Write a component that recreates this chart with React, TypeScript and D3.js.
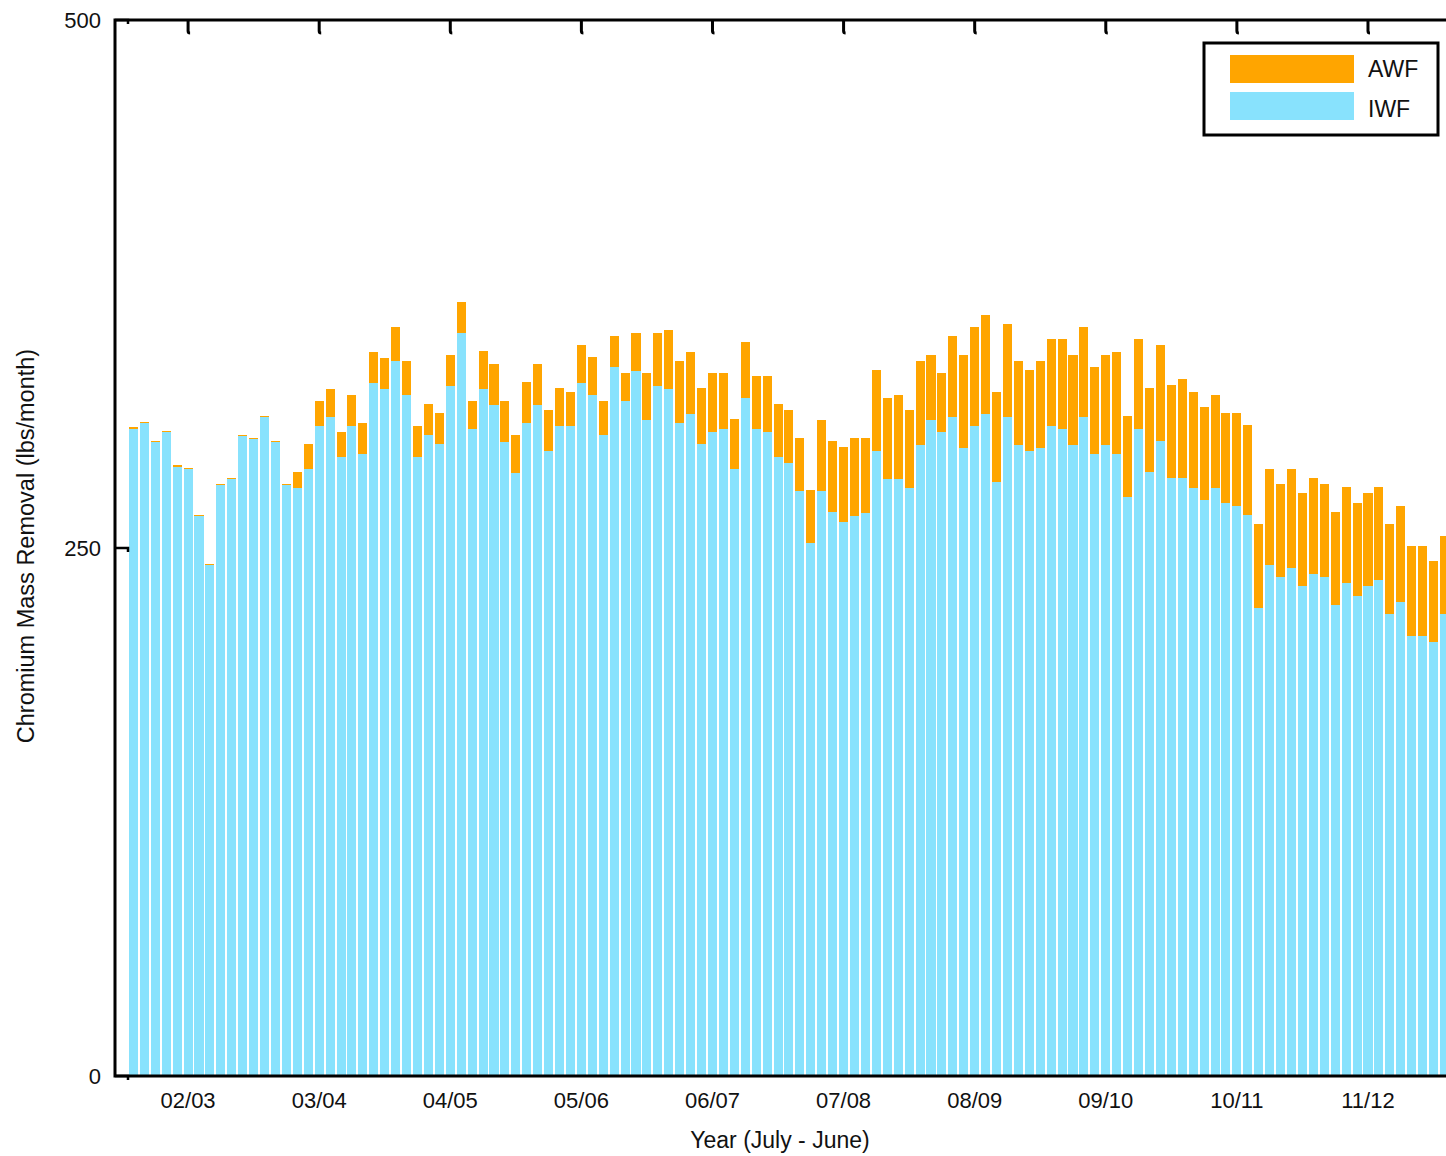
import React from "react";
import * as d3 from "d3";

// monthly removal, lbs/month (Aug 2002 - Aug 2012)
const iwf = [
  306.3, 309.2, 300.0, 304.7, 288.5, 287.2, 265.0, 241.8, 279.8, 282.5, 303.0, 301.4,
  312.0, 300.0, 279.8, 278.4, 287.4, 307.8, 312.0, 293.0, 307.8, 294.7, 328.1, 325.3,
  338.5, 322.4, 293.0, 303.5, 299.2, 326.7, 351.8, 306.3, 325.3, 317.7, 300.2, 285.5,
  309.2, 317.7, 295.9, 307.8, 307.8, 328.1, 322.4, 303.5, 335.7, 319.6, 333.8, 310.6,
  326.7, 325.3, 309.2, 313.4, 299.2, 304.9, 306.3, 287.4, 321.0, 306.3, 304.9, 293.0,
  290.2, 277.0, 252.4, 277.0, 267.0, 262.3, 265.2, 266.6, 295.9, 282.7, 282.7, 278.4,
  298.8, 310.6, 304.9, 312.0, 297.3, 307.8, 313.4, 281.3, 312.0, 298.8, 295.9, 297.3,
  307.8, 306.3, 298.8, 312.0, 294.5, 298.8, 294.5, 274.1, 306.3, 286.0, 300.7, 283.1,
  283.1, 278.4, 272.7, 278.4, 271.3, 269.9, 265.6, 221.6, 242.0, 236.3, 240.5, 232.0,
  237.7, 236.3, 223.0, 233.4, 227.3, 232.0, 234.8, 218.8, 224.4, 208.3, 208.3, 205.5,
  218.8,
];

const awf = [
  0.8, 0.6, 0.6, 0.6, 0.6, 0.6, 0.6, 0.6, 0.6, 0.6, 0.6, 0.6,
  0.6, 0.6, 0.6, 7.6, 11.8, 11.8, 13.3, 11.9, 14.6, 14.3, 14.7, 14.7,
  16.1, 16.1, 14.8, 14.7, 14.7, 14.7, 14.7, 13.3, 18.0, 19.4, 19.4, 18.0,
  19.4, 19.4, 19.4, 18.0, 16.1, 18.0, 18.0, 16.1, 14.7, 13.3, 18.0, 22.3,
  25.1, 27.9, 29.3, 29.4, 26.6, 28.0, 26.6, 23.7, 26.5, 25.1, 26.5, 25.2,
  25.1, 25.1, 25.1, 33.6, 33.7, 35.5, 36.9, 35.5, 38.4, 38.3, 39.7, 36.9,
  39.7, 30.8, 28.0, 38.4, 44.1, 46.8, 46.9, 42.6, 44.1, 39.7, 38.4, 41.2,
  41.2, 42.7, 42.6, 42.6, 41.2, 42.6, 48.3, 38.4, 42.7, 39.8, 45.4, 44.1,
  46.9, 45.5, 44.1, 44.0, 42.6, 44.0, 42.6, 39.8, 45.4, 44.0, 46.9, 44.0,
  45.4, 44.0, 44.0, 45.5, 44.0, 44.0, 44.1, 42.6, 45.5, 42.7, 42.7, 38.3,
  36.9,
];

const months = d3.timeMonth.range(new Date(2002, 7, 1), new Date(2012, 8, 1));
const monthKeys = months.map((d) => d3.timeFormat("%Y-%m")(d));

const yearLabels = ["02/03", "03/04", "04/05", "05/06", "06/07", "07/08", "08/09", "09/10", "10/11", "11/12"];
const yearTickMonths = ["2003-01", "2004-01", "2005-01", "2006-01", "2007-01", "2008-01", "2009-01", "2010-01", "2011-01", "2012-01"];

const yTicks = [0, 250, 500];

const seriesNames = ["AWF", "IWF"];
const seriesColors = ["#ffa500", "#88e2fd"];

const W = 1446;
const H = 1156;
const font = "'Liberation Sans', Arial, sans-serif";

export default function App() {
  const left = 115;
  const top = 20;
  const bottom = 1076;
  const step = 10.925;

  const x = d3
    .scaleBand<string>()
    .domain(monthKeys)
    .range([128, 128 + monthKeys.length * step])
    .paddingInner(0.17)
    .paddingOuter(0.085);

  const y = d3.scaleLinear().domain([0, 500]).range([bottom, top]);

  const rows = monthKeys.map((m, i) => ({ m, iwf: iwf[i], awf: awf[i] }));
  const stack = d3.stack<any>().keys(["iwf", "awf"])(rows);

  const tickX = (m: string) => (x(m) || 0) + x.bandwidth() / 2;

  return (
    <svg
      width={W}
      height={H}
      style={{ position: "absolute", left: 0, top: 0, display: "block", background: "#fff" }}
      fontFamily={font}
    >
      {/* bottom ticks, mostly hidden behind bars */}
      {yearTickMonths.map((m) => (
        <line key={"bt" + m} x1={tickX(m)} x2={tickX(m)} y1={bottom} y2={bottom - 13} stroke="#000" strokeWidth={2} />
      ))}

      <g shapeRendering="crispEdges">
        {stack.map((layer) => (
          <g key={layer.key} fill={layer.key === "iwf" ? seriesColors[1] : seriesColors[0]}>
            {layer.map((d, i) => (
              <rect
                key={i}
                x={x(monthKeys[i])}
                width={x.bandwidth()}
                y={y(d[1])}
                height={y(d[0]) - y(d[1])}
              />
            ))}
          </g>
        ))}
      </g>

      {/* frame */}
      <path
        d={`M${W},${top} H${left} V${bottom} H${W}`}
        fill="none"
        stroke="#000"
        strokeWidth={3}
      />

      {/* top ticks */}
      {yearTickMonths.map((m) => (
        <path
          key={"tt" + m}
          d={`M${tickX(m)},${top} V${top + 11} q0,2 2,2`}
          fill="none"
          stroke="#000"
          strokeWidth={3}
        />
      ))}

      {/* y ticks and labels */}
      {yTicks.map((t) => (
        <g key={"yt" + t}>
          <path d={`M${left},${y(t)} H128 V${y(t) + 4}`} fill="none" stroke="#000" strokeWidth={2.5} />
          <text x={101} y={y(t)} dy="0.36em" textAnchor="end" fontSize={22} fill="#111">
            {t}
          </text>
        </g>
      ))}

      {/* x labels */}
      {yearTickMonths.map((m, i) => (
        <text key={"xl" + m} x={tickX(m)} y={1108} textAnchor="middle" fontSize={22} fill="#111">
          {yearLabels[i]}
        </text>
      ))}

      <text x={780} y={1148} textAnchor="middle" fontSize={23} fill="#111">
        Year (July - June)
      </text>
      <text
        transform={`translate(34,546) rotate(-90)`}
        textAnchor="middle"
        fontSize={23.5}
        fill="#111"
      >
        Chromium Mass Removal (lbs/month)
      </text>

      {/* legend */}
      <rect x={1204} y={43} width={234} height={92} fill="#fff" stroke="#000" strokeWidth={3} />
      {seriesNames.map((s, i) => (
        <g key={s}>
          <rect x={1230} y={55 + i * 37} width={124} height={28} fill={seriesColors[i]} />
          <text x={1368} y={77 + i * 40} fontSize={23} fill="#111">
            {s}
          </text>
        </g>
      ))}
    </svg>
  );
}
